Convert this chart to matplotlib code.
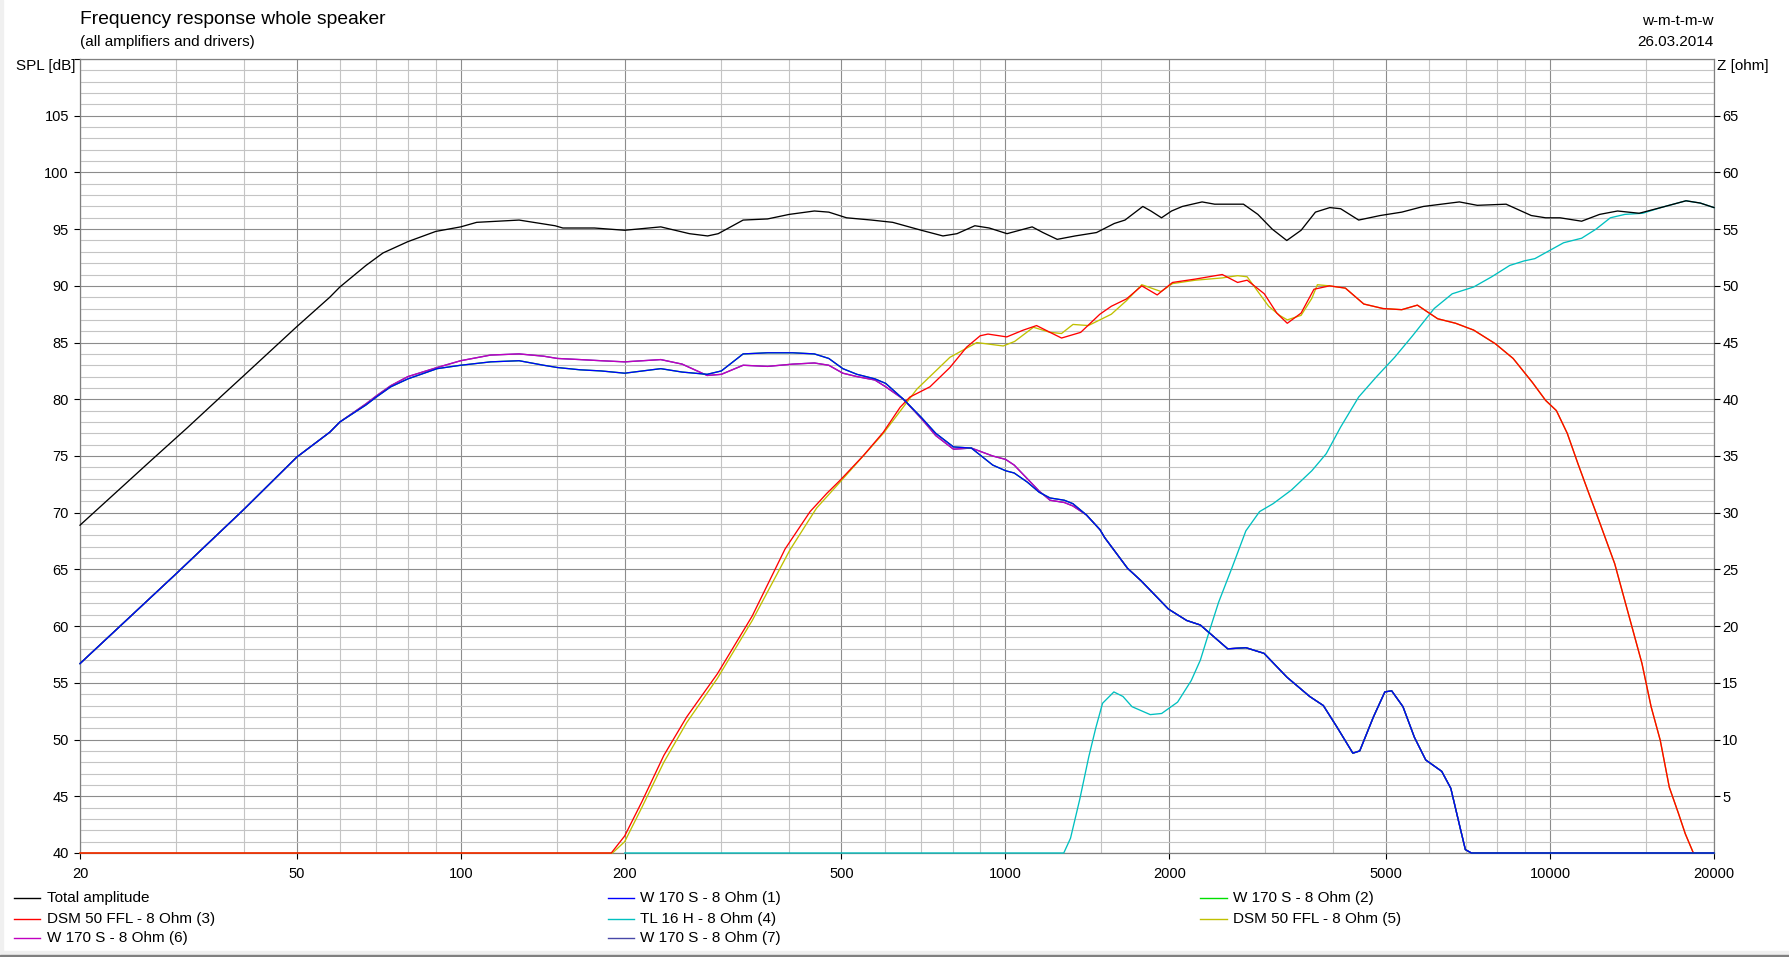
import matplotlib
matplotlib.use('Agg')
import matplotlib.pyplot as plt
from matplotlib.lines import Line2D
from matplotlib.patches import Rectangle
from matplotlib.ticker import FixedLocator, FixedFormatter, NullFormatter

plt.rcParams['font.family'] = ['Liberation Sans', 'DejaVu Sans']

# ---------------- data ----------------
total_f = [20, 23.3, 27, 31.5, 36.6, 40, 50, 57.5, 60, 67, 72, 80, 90, 100, 107, 128, 149, 154, 176,
           200, 233, 263, 284, 297, 330, 366, 401, 446, 474, 511, 568, 621, 701, 768, 815, 879, 934,
           1007, 1120, 1172, 1245, 1343, 1470, 1585, 1658, 1788, 1850, 1935, 2019, 2113, 2297, 2423,
           2736, 2908, 3090, 3286, 3491, 3709, 3942, 4126, 4453, 4877, 5343, 5854, 6816, 7352, 8305,
           9237, 9815, 10432, 11429, 12331, 13305, 14576, 15971, 17765, 18875, 20000]
total_db = [68.9, 71.8, 74.6, 77.5, 80.4, 82.1, 86.4, 89.0, 89.9, 91.8, 92.9, 93.9, 94.8, 95.2, 95.6,
            95.8, 95.3, 95.1, 95.1, 94.9, 95.2, 94.6, 94.4, 94.6, 95.8, 95.9, 96.3, 96.6, 96.5, 96.0,
            95.8, 95.6, 94.9, 94.4, 94.6, 95.3, 95.1, 94.6, 95.2, 94.7, 94.1, 94.4, 94.7, 95.5, 95.8,
            97.0, 96.6, 96.0, 96.6, 97.0, 97.4, 97.2, 97.2, 96.3, 95.0, 94.0, 94.9, 96.5, 96.9, 96.8,
            95.8, 96.2, 96.5, 97.0, 97.4, 97.1, 97.2, 96.2, 96.0, 96.0, 95.7, 96.3, 96.6, 96.4, 96.9,
            97.5, 97.3, 96.9]

woofer1_f = [20, 30, 40, 50, 57.5, 60, 67, 70, 74.4, 80, 90.5, 100, 113.5, 128, 142, 150.5, 165.6, 181,
             200, 233, 255, 283.5, 301, 330, 366, 407, 446, 474, 503, 534, 576, 603, 650, 701, 745,
             803, 866, 948, 1001, 1038, 1097, 1154, 1208, 1283, 1330, 1409, 1492, 1522, 1676, 1775,
             1993, 2152, 2280, 2560, 2764, 2985, 3288, 3620, 3835, 4063, 4345, 4473, 4740, 4974,
             5119, 5370, 5636, 5913, 6326, 6574, 6832, 6991, 7170, 20000]
woofer1_db = [56.7, 64.6, 70.3, 74.9, 77.1, 78.0, 79.5, 80.2, 81.1, 81.8, 82.7, 83.0, 83.3, 83.4, 83.0,
              82.8, 82.6, 82.5, 82.3, 82.7, 82.4, 82.2, 82.5, 84.0, 84.1, 84.1, 84.0, 83.6, 82.7,
              82.2, 81.8, 81.4, 80.0, 78.4, 77.0, 75.8, 75.7, 74.2, 73.7, 73.5, 72.7, 71.8, 71.3,
              71.1, 70.8, 69.8, 68.5, 67.8, 65.1, 64.0, 61.5, 60.5, 60.1, 58.0, 58.1, 57.6, 55.5,
              53.8, 53.0, 51.1, 48.8, 49.0, 52.0, 54.2, 54.3, 52.9, 50.2, 48.2, 47.2, 45.7, 42.3,
              40.3, 40.0, 40.0]

woofer6_f = [20, 30, 40, 50, 57.5, 60, 67, 70, 74.4, 80, 90.5, 100, 113.5, 128, 142, 150.5, 165.6, 181,
             200, 233, 255, 283.5, 301, 330, 366, 407, 446, 474, 503, 534, 576, 603, 650, 701, 745,
             803, 866, 948, 1001, 1038, 1097, 1154, 1208, 1283, 1330, 1409, 1492, 1522, 1676, 1775,
             1993, 2152, 2280, 2560, 2764, 2985, 3288, 3620, 3835, 4063, 4345, 4473, 4740, 4974,
             5119, 5370, 5636, 5913, 6326, 6574, 6832, 6991, 7170, 20000]
woofer6_db = [56.7, 64.6, 70.3, 74.9, 77.1, 78.0, 79.6, 80.3, 81.2, 82.0, 82.8, 83.4, 83.9, 84.0, 83.8,
              83.6, 83.5, 83.4, 83.3, 83.5, 83.1, 82.1, 82.2, 83.0, 82.9, 83.1, 83.2, 83.0, 82.3,
              82.0, 81.7, 81.1, 80.0, 78.3, 76.8, 75.6, 75.7, 75.0, 74.7, 74.2, 73.0, 71.9, 71.1,
              70.9, 70.6, 69.8, 68.5, 67.8, 65.1, 64.0, 61.5, 60.5, 60.1, 58.0, 58.1, 57.6, 55.5,
              53.8, 53.0, 51.1, 48.8, 49.0, 52.0, 54.2, 54.3, 52.9, 50.2, 48.2, 47.2, 45.7, 42.3,
              40.3, 40.0, 40.0]

dsm3_f = [20, 189, 200, 215, 236, 260, 296, 343, 394, 438, 470, 497, 549, 597, 641, 668, 727, 791, 849,
          899, 929, 1006, 1079, 1141, 1208, 1268, 1375, 1491, 1565, 1669, 1780, 1900, 2027, 2234,
          2501, 2669, 2779, 2988, 3150, 3293, 3491, 3686, 3935, 4210, 4550, 4936, 5343, 5707, 6219,
          6711, 7241, 7934, 8555, 9276, 9816, 10273, 10755, 11256, 11784, 12170, 13145, 13925, 14751,
          15330, 15932, 16556, 17207, 17712, 18330]
dsm3_db = [40.0, 40.0, 41.5, 44.5, 48.6, 52.0, 55.8, 60.9, 66.8, 70.1, 71.7, 72.85, 75.05, 77.1, 79.3,
           80.2, 81.1, 82.8, 84.6, 85.6, 85.75, 85.5, 86.1, 86.5, 85.9, 85.4, 85.9, 87.5, 88.2, 88.85,
           90.0, 89.2, 90.3, 90.6, 91.0, 90.3, 90.5, 89.3, 87.6, 86.7, 87.6, 89.7, 90.0, 89.8, 88.4,
           88.0, 87.9, 88.3, 87.1, 86.7, 86.1, 84.9, 83.6, 81.5, 79.9, 79.0, 77.0, 74.3, 71.7, 69.9,
           65.5, 61.1, 56.7, 52.9, 49.95, 45.8, 43.5, 41.7, 40.0]

dsm5_f = [20, 190, 200, 215, 236, 260, 296, 343, 402, 450, 497, 597, 688, 791, 886, 991, 1040, 1126,
          1208, 1268, 1331, 1420, 1491, 1565, 1669, 1780, 1931, 2027, 2234, 2501, 2669, 2779, 2908,
          3044, 3187, 3293, 3491, 3653, 3740, 3935, 4210, 4550, 4936, 5343, 5707, 6219, 6711, 7241,
          7934, 8555, 9276, 9816, 10273, 10755, 11256, 11784, 12170, 13145, 13925, 14751, 15330,
          15932, 16556, 17207, 17712, 18330]
dsm5_db = [40.0, 40.0, 41.0, 44.0, 48.0, 51.5, 55.4, 60.5, 66.7, 70.4, 72.7, 77.0, 80.9, 83.7, 85.0,
           84.7, 85.1, 86.35, 85.9, 85.8, 86.6, 86.5, 87.0, 87.5, 88.7, 90.1, 89.5, 90.2, 90.5, 90.7,
           90.9, 90.8, 89.5, 88.2, 87.4, 87.0, 87.4, 88.9, 90.1, 90.0, 89.8, 88.4, 88.0, 87.9, 88.3,
           87.1, 86.7, 86.1, 84.9, 83.6, 81.5, 79.9, 79.0, 77.0, 74.3, 71.7, 69.9, 65.5, 61.1, 56.7,
           52.9, 49.95, 45.8, 43.5, 41.7, 40.0]

tweeter4_f = [200, 1280, 1317, 1369, 1423, 1465, 1508, 1582, 1644, 1708, 1845, 1936, 2071, 2194, 2280,
              2370, 2463, 2609, 2764, 2929, 3102, 3351, 3653, 3882, 4126, 4453, 4804, 5184, 5592,
              6127, 6613, 7241, 7815, 8433, 8964, 9378, 9966, 10590, 11429, 12145, 12904, 13717,
              14798, 15971, 17765, 18875, 20000]
tweeter4_db = [40.0, 40.0, 41.3, 44.7, 48.5, 51.0, 53.2, 54.2, 53.8, 52.9, 52.2, 52.3, 53.3, 55.2, 57.0,
               59.6, 62.1, 65.2, 68.4, 70.1, 70.8, 72.0, 73.7, 75.2, 77.55, 80.2, 82.0, 83.7, 85.6,
               88.0, 89.3, 89.9, 90.8, 91.8, 92.2, 92.4, 93.1, 93.8, 94.2, 95.0, 96.0, 96.3, 96.4,
               96.9, 97.5, 97.3, 96.9]

labels = ["Total amplitude", "W 170 S - 8 Ohm (1)", "W 170 S - 8 Ohm (2)", "DSM 50 FFL - 8 Ohm (3)",
          "TL 16 H - 8 Ohm (4)", "DSM 50 FFL - 8 Ohm (5)", "W 170 S - 8 Ohm (6)", "W 170 S - 8 Ohm (7)"]
colors = ["#000000", "#0000ff", "#00e000", "#ff0000", "#00c0c0", "#c0c000", "#c000c0", "#4848a8"]

x_major = [20, 50, 100, 200, 500, 1000, 2000, 5000, 10000, 20000]
x_major_labels = ["20", "50", "100", "200", "500", "1000", "2000", "5000", "10000", "20000"]
x_minor = [30, 40, 60, 70, 80, 90, 150, 300, 400, 600, 700, 800, 900, 1500, 3000, 4000,
           6000, 7000, 8000, 9000, 15000]
spl_ticks = [40, 45, 50, 55, 60, 65, 70, 75, 80, 85, 90, 95, 100, 105]
z_ticks = [5, 10, 15, 20, 25, 30, 35, 40, 45, 50, 55, 60, 65]

# ---------------- figure ----------------
W, H, DPI = 1789, 957, 100
fig = plt.figure(figsize=(W / DPI, H / DPI), dpi=DPI, facecolor='white')
L, R, T, B = 80, 1714, 59, 853
ax = fig.add_axes([L / W, 1 - B / H, (R - L) / W, (B - T) / H])
ax.set_xscale('log')
ax.set_xlim(20, 20000)
ax.set_ylim(40, 110)

ax.xaxis.set_major_locator(FixedLocator(x_major))
ax.xaxis.set_major_formatter(FixedFormatter(x_major_labels))
ax.xaxis.set_minor_locator(FixedLocator(x_minor))
ax.xaxis.set_minor_formatter(NullFormatter())
ax.yaxis.set_major_locator(FixedLocator(spl_ticks + [110]))
ax.yaxis.set_major_formatter(FixedFormatter([str(v) for v in spl_ticks] + [""]))
ax.yaxis.set_minor_locator(FixedLocator([v for v in range(40, 111) if v % 5 != 0]))

ax.grid(which='major', color='#8c8c8c', lw=0.8)
ax.grid(which='minor', color='#c4c4c4', lw=0.8)
ax.set_axisbelow(True)
for s in ax.spines.values():
    s.set_color('#808080')
    s.set_linewidth(0.9)
ax.tick_params(which='major', length=4, width=0.8, color='#000000', labelsize=10.5, pad=6)
ax.tick_params(which='minor', length=0)
ax.tick_params(axis='y', pad=4)

axz = ax.twinx()
axz.set_ylim(0, 70)
axz.yaxis.set_major_locator(FixedLocator(z_ticks))
axz.yaxis.set_major_formatter(FixedFormatter([str(v) for v in z_ticks]))
axz.tick_params(length=4, width=0.8, labelsize=10.5, pad=2)
for s in axz.spines.values():
    s.set_visible(False)

# draw order: later series underneath, total on top
series = [
    (woofer6_f, woofer6_db, 7),
    (woofer6_f, woofer6_db, 6),
    (dsm5_f, dsm5_db, 5),
    (tweeter4_f, tweeter4_db, 4),
    (dsm3_f, dsm3_db, 3),
    (woofer1_f, woofer1_db, 2),
    (woofer1_f, woofer1_db, 1),
    (total_f, total_db, 0),
]
for f, db, idx in series:
    ax.plot(f, db, color=colors[idx], lw=0.95, clip_on=False, zorder=3 + (8 - idx) * 0.1)

# ---------------- texts ----------------
def ftxt(x, y, s, **kw):
    fig.text(x / W, 1 - y / H, s, **kw)

ftxt(80, 24, "Frequency response whole speaker", fontsize=13.9, va='baseline', ha='left')
ftxt(80, 46, "(all amplifiers and drivers)", fontsize=11, va='baseline', ha='left')
ftxt(75, 70, "SPL [dB]", fontsize=11, va='baseline', ha='right')
ftxt(1717, 70, "Z [ohm]", fontsize=11, va='baseline', ha='left')
ftxt(1714, 25, "w-m-t-m-w", fontsize=11, va='baseline', ha='right')
ftxt(1714, 46, "26.03.2014", fontsize=11, va='baseline', ha='right')

# ---------------- legend ----------------
cols = [(14, 40, 47), (608, 634, 640), (1200, 1227, 1233)]
rows = [898, 918.5, 938]
order = [(0, 0, 0), (1, 1, 0), (2, 2, 0), (3, 0, 1), (4, 1, 1), (5, 2, 1), (6, 0, 2), (7, 1, 2)]
for idx, c, r in order:
    x0, x1, xt = cols[c]
    y = 1 - rows[r] / H
    fig.add_artist(Line2D([x0 / W, x1 / W], [y, y], color=colors[idx], lw=1.0,
                          transform=fig.transFigure))
    fig.text(xt / W, y, labels[idx], fontsize=11, va='center', ha='left')

# window frame
fig.add_artist(Rectangle((0, 0), 3 / W, 1, transform=fig.transFigure, color='#f0f0f0', zorder=0))
fig.add_artist(Rectangle((0, 0), 1, 6 / H, transform=fig.transFigure, color='#f0f0f0', zorder=0))
fig.add_artist(Rectangle((0, 0), 1, 2 / H, transform=fig.transFigure, color='#808080', zorder=0))

fig.savefig('out.png', dpi=DPI, facecolor='white')
